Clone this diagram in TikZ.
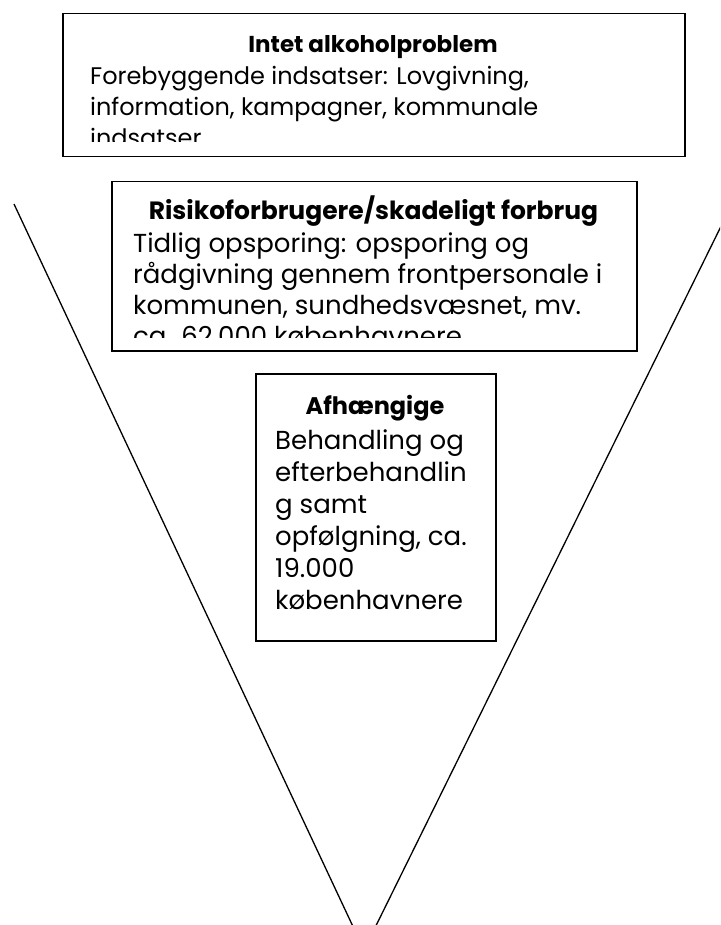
\documentclass[tikz,border=0pt]{standalone}
\usepackage{fontspec}
\setmainfont{Poppins}
\usetikzlibrary{positioning}
\tikzset{
  boks/.style={draw, line width=1.5pt, inner sep=0pt, anchor=north west},
  overskrift/.style={font=\bfseries\fontsize{#1}{32}\selectfont, inner sep=0pt, anchor=base},
  tekst/.style={align=left, inner sep=0pt, anchor=north west},
}
\begin{document}
\begin{tikzpicture}[x=1pt,y=-1pt]
\useasboundingbox[fill=white] (0,0) rectangle (720,925);
\coordinate (vvenstre) at (14,204);
\coordinate (vhoejre) at (732,204);
\coordinate (vbund) at (364,950);
\begin{scope}
  \clip (0,0) rectangle (720,925);
  \draw[line width=1.3pt] (vvenstre) -- (vbund) -- (vhoejre);
\end{scope}

% intet alkoholproblem
\node[boks, minimum width=622, minimum height=143] (ingen) at (62,13) {};
\begin{scope}[font=\fontsize{24}{31}\selectfont]
  \clip ([yshift=16pt]ingen.south west) rectangle (ingen.north east);
  \node[overskrift=23] (ingent) at (373,53) {Intet alkoholproblem};
  \node[tekst] (ingenb) at (90,62.3) {\strut Forebyggende indsatser: Lovgivning,\\
    information, kampagner, kommunale\\indsatser};
\end{scope}

% risikoforbrugere
\node[boks, minimum width=525, minimum height=169] (risiko) at (111,181) {};
\begin{scope}[font=\fontsize{26}{31}\selectfont]
  \clip ([yshift=14pt]risiko.south west) rectangle (risiko.north east);
  \node[overskrift=25] (risikot) at (373.5,220) {Risikoforbrugere/skadeligt forbrug};
  \node[tekst] (risikob) at (133,230.3) {\strut Tidlig opsporing: opsporing og\\
    rådgivning gennem frontpersonale i\\kommunen, sundhedsvæsnet, mv.\\
    ca. 62.000 københavnere};
\end{scope}

% afhaengige
\node[boks, minimum width=240, minimum height=267] (afh) at (255,373) {};
\begin{scope}[font=\fontsize{26}{32}\selectfont]
  \clip ([yshift=6pt]afh.south west) rectangle (afh.north east);
  \node[overskrift=24] (afht) at (375,414) {Afhængige};
  \node[tekst] (afhb) at (275,426.6) {\strut Behandling og\\efterbehandlin\\g samt\\
    opfølgning, ca.\\19.000\\københavnere};
\end{scope}
\end{tikzpicture}
\end{document}
